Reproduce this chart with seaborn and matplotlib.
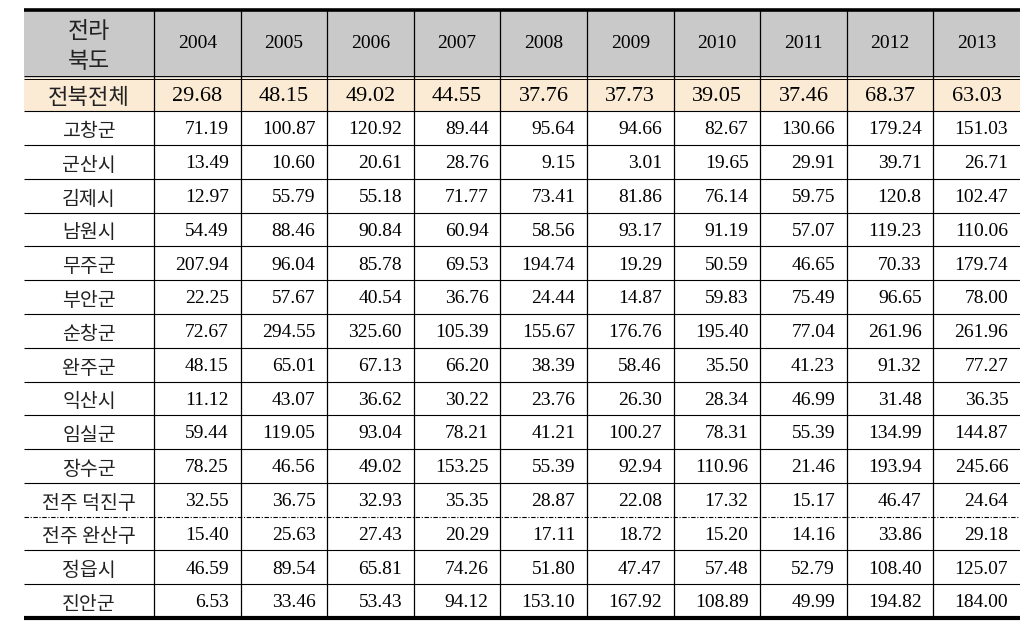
import numpy as np
import matplotlib
matplotlib.use("Agg")
import matplotlib.pyplot as plt
import seaborn as sns
from matplotlib.colors import ListedColormap

# table data
years = ["2004", "2005", "2006", "2007", "2008", "2009", "2010", "2011", "2012", "2013"]
header_label = "전라\n북도"
total_label = "전북전체"
total_vals = ["29.68", "48.15", "49.02", "44.55", "37.76", "37.73", "39.05", "37.46", "68.37", "63.03"]

regions = ["고창군", "군산시", "김제시", "남원시", "무주군", "부안군", "순창군", "완주군",
           "익산시", "임실군", "장수군", "전주 덕진구", "전주 완산구", "정읍시", "진안군"]
gochang = ["71.19", "100.87", "120.92", "89.44", "95.64", "94.66", "82.67", "130.66", "179.24", "151.03"]
gunsan = ["13.49", "10.60", "20.61", "28.76", "9.15", "3.01", "19.65", "29.91", "39.71", "26.71"]
gimje = ["12.97", "55.79", "55.18", "71.77", "73.41", "81.86", "76.14", "59.75", "120.8", "102.47"]
namwon = ["54.49", "88.46", "90.84", "60.94", "58.56", "93.17", "91.19", "57.07", "119.23", "110.06"]
muju = ["207.94", "96.04", "85.78", "69.53", "194.74", "19.29", "50.59", "46.65", "70.33", "179.74"]
buan = ["22.25", "57.67", "40.54", "36.76", "24.44", "14.87", "59.83", "75.49", "96.65", "78.00"]
sunchang = ["72.67", "294.55", "325.60", "105.39", "155.67", "176.76", "195.40", "77.04", "261.96", "261.96"]
wanju = ["48.15", "65.01", "67.13", "66.20", "38.39", "58.46", "35.50", "41.23", "91.32", "77.27"]
iksan = ["11.12", "43.07", "36.62", "30.22", "23.76", "26.30", "28.34", "46.99", "31.48", "36.35"]
imsil = ["59.44", "119.05", "93.04", "78.21", "41.21", "100.27", "78.31", "55.39", "134.99", "144.87"]
jangsu = ["78.25", "46.56", "49.02", "153.25", "55.39", "92.94", "110.96", "21.46", "193.94", "245.66"]
deokjin = ["32.55", "36.75", "32.93", "35.35", "28.87", "22.08", "17.32", "15.17", "46.47", "24.64"]
wansan = ["15.40", "25.63", "27.43", "20.29", "17.11", "18.72", "15.20", "14.16", "33.86", "29.18"]
jeongeup = ["46.59", "89.54", "65.81", "74.26", "51.80", "47.47", "57.48", "52.79", "108.40", "125.07"]
jinan = ["6.53", "33.46", "53.43", "94.12", "153.10", "167.92", "108.89", "49.99", "194.82", "184.00"]
region_vals = [gochang, gunsan, gimje, namwon, muju, buan, sunchang, wanju,
               iksan, imsil, jangsu, deokjin, wansan, jeongeup, jinan]

fonts = ["Liberation Serif", "Noto Sans CJK KR", "DejaVu Sans"]
kfont = ["Noto Sans CJK KR", "DejaVu Sans"]

# grid: label column = 3 half-units, each year = 2 half-units; header = 2 rows
n_rows = 2 + 1 + len(regions)
n_cols = 3 + 2 * len(years)
bg = np.zeros((n_rows, n_cols))
bg[0:2, :] = 2   # header grey
bg[2, :] = 1     # total row beige

fig = plt.figure(figsize=(10.29, 6.39), dpi=100)
ax = fig.add_axes([24 / 1029, 1 - 618 / 639, 996 / 1029, 608 / 639])
sns.heatmap(bg, cmap=ListedColormap(["#ffffff", "#fbebd4", "#c9c9c9"]), vmin=0, vmax=2,
            cbar=False, xticklabels=False, yticklabels=False, ax=ax)
ax.set_xlim(0, n_cols)
ax.set_ylim(n_rows, 0)
for s in ax.spines.values():
    s.set_visible(False)

# rules
ax.hlines(0, 0, n_cols, color="black", lw=2.6, clip_on=False)
ax.hlines(n_rows, 0, n_cols, color="black", lw=3.0, clip_on=False)
ax.hlines([2 - 0.035, 2 + 0.035], 0, n_cols, color="black", lw=0.7)
for y in range(3, n_rows):
    if y == 15:
        ax.hlines(y, 0, n_cols, color="black", lw=0.8, linestyles=(0, (4, 1.5, 1, 1.5)))
    else:
        ax.hlines(y, 0, n_cols, color="black", lw=0.8)
ax.vlines([3 + 2 * k for k in range(len(years))], 0, n_rows, color="black", lw=0.9)

# header
ax.text(1.5, 1.08, header_label, ha="center", va="center", fontsize=16.5,
        family=kfont, linespacing=1.35, color="#222222")
for k, yr in enumerate(years):
    ax.text(4 + 2 * k, 1, yr, ha="center", va="center", fontsize=14, family=fonts)

# total row
ax.text(1.5, 2.6, total_label, ha="center", va="center", fontsize=16, family=kfont,
        color="#222222")
for k, v in enumerate(total_vals):
    ax.text(4 + 2 * k, 2.55, v, ha="center", va="center", fontsize=16, family=fonts)

# region rows
pad = 0.27
for i, (name, vals) in enumerate(zip(regions, region_vals)):
    yc = 3.5 + i
    ax.text(1.5, yc + 0.1, name, ha="center", va="center", fontsize=14, family=kfont,
            color="#222222")
    for k, v in enumerate(vals):
        ax.text(5 + 2 * k - pad, yc + 0.05, v, ha="right", va="center",
                fontsize=14, family=fonts)

fig.savefig("out.png", dpi=100)
